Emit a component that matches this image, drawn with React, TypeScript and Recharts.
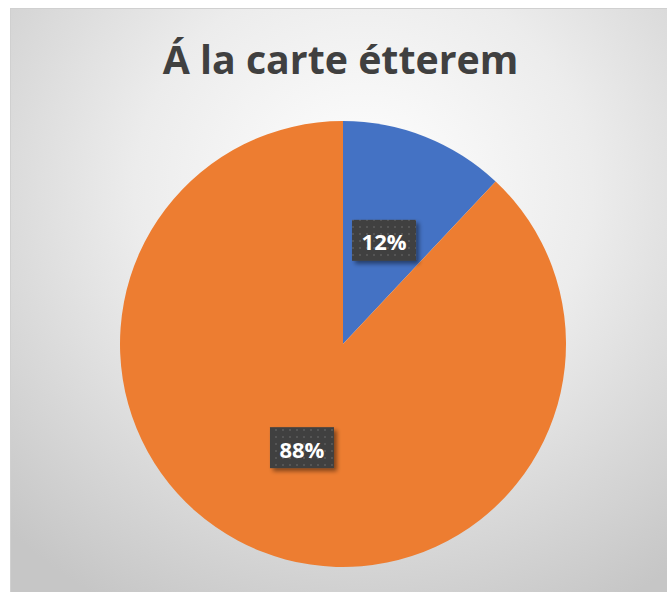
import React from "react";
import { PieChart, Pie, Cell } from "recharts";

const categories = ["Igen", "Nem"];
const values = [12, 88];
const colors = ["#4472C4", "#ED7D31"];
const title = "Á la carte étterem";

const data = categories.map((name, i) => ({ name, value: values[i] }));

const RAD = Math.PI / 180;

function renderLabel(props: any) {
  const { cx, cy, midAngle, outerRadius, percent } = props;
  const r = outerRadius * 0.5;
  const x = cx + r * Math.cos(-midAngle * RAD);
  const y = cy + r * Math.sin(-midAngle * RAD);
  const w = 64;
  const h = 41;
  return (
    <g>
      <rect x={x - w / 2} y={y - h / 2} width={w} height={h} fill="url(#dotPattern)" filter="url(#labelShadow)" />
      <text
        x={x}
        y={y + 1}
        textAnchor="middle"
        dominantBaseline="central"
        fill="#ffffff"
        fontFamily="'Open Sans', sans-serif"
        fontWeight={700}
        fontSize={22}
      >
        {`${Math.round(percent * 100)}%`}
      </text>
    </g>
  );
}

export default function App() {
  return (
    <div>
      <svg width={0} height={0} style={{ position: "absolute" }}>
        <defs>
          <pattern id="dotPattern" x={0} y={0} width={7} height={7} patternUnits="userSpaceOnUse">
            <rect width={7} height={7} fill="#404040" />
            <rect x={2} y={2} width={2} height={2} fill="#545454" />
          </pattern>
          <filter id="labelShadow" x="-20%" y="-20%" width="150%" height="150%">
            <feDropShadow dx={3} dy={3} stdDeviation={2} floodColor="#000" floodOpacity={0.45} />
          </filter>
        </defs>
      </svg>
      <div
        style={{
          position: "absolute",
          left: 10,
          top: 8,
          width: 680,
          height: 600,
          boxSizing: "border-box",
          border: "1px solid #d0d0d0",
          background: "radial-gradient(ellipse 75% 80% at 52% 30%, #ffffff 0%, #ececec 45%, #c6c6c6 100%)",
        }}
      />
      <div
        style={{
          position: "absolute",
          left: 0,
          top: 34,
          width: 681,
          textAlign: "center",
          fontFamily: "'Open Sans', sans-serif",
          fontWeight: 700,
          fontSize: 39.3,
          color: "#404040",
          lineHeight: "50px",
          whiteSpace: "nowrap",
        }}
      >
        {title}
      </div>
      <div style={{ position: "absolute", left: 0, top: 0 }}>
        <PieChart width={667} height={592} margin={{ top: 0, right: 0, bottom: 0, left: 0 }}>
          <Pie
            data={data}
            dataKey="value"
            nameKey="name"
            cx={343}
            cy={344}
            outerRadius={223}
            startAngle={90}
            endAngle={-270}
            stroke="none"
            label={renderLabel}
            labelLine={false}
            isAnimationActive={false}
          >
            {data.map((d, i) => (
              <Cell key={d.name} fill={colors[i]} />
            ))}
          </Pie>
        </PieChart>
      </div>
    </div>
  );
}
